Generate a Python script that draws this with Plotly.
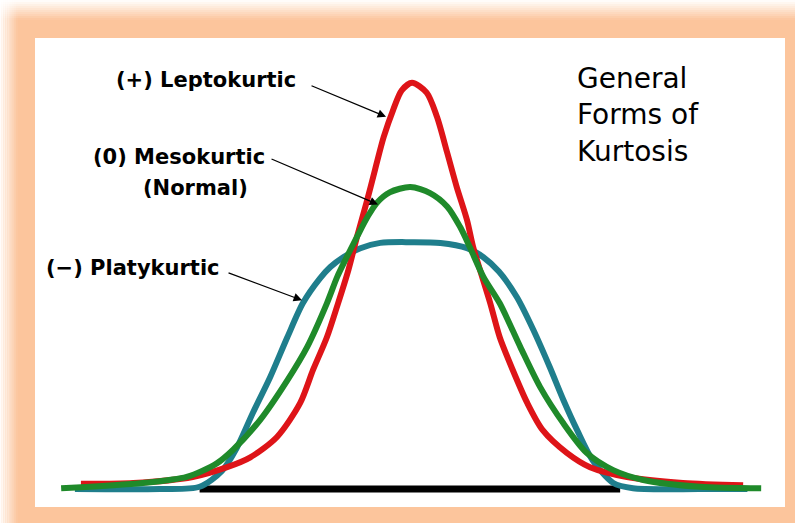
import plotly.graph_objects as go

# Values: x in standard-deviation units, y in density units
red_x = [-3.85, -3.24, -2.55, -2.15, -1.88, -1.57, -1.30, -1.15, -0.99, -0.86, -0.74, -0.64, -0.53,
         -0.43, -0.33, -0.22, -0.12, 0.0, 0.17, 0.29, 0.41, 0.52, 0.64, 0.71, 0.91, 1.02,
         1.17, 1.34, 1.52, 1.80, 2.07, 2.50, 3.15, 3.85]
red_y = [0.007, 0.008, 0.016, 0.029, 0.042, 0.069, 0.114, 0.158, 0.201, 0.246, 0.290, 0.334, 0.379,
         0.423, 0.466, 0.502, 0.528, 0.538, 0.525, 0.493, 0.445, 0.400, 0.356, 0.321, 0.246,
         0.201, 0.158, 0.114, 0.078, 0.048, 0.029, 0.016, 0.008, 0.005]

green_x = [-4.08, -3.13, -2.62, -2.27, -2.08, -1.77, -1.45, -1.22, -0.99, -0.87, -0.76, -0.64, -0.52,
           -0.41, -0.26, -0.02, 0.21, 0.41, 0.56, 0.67, 0.83, 1.02, 1.26, 1.49, 1.76, 2.03, 2.34,
           2.69, 3.35, 4.06]
green_y = [0.001, 0.008, 0.016, 0.034, 0.052, 0.091, 0.144, 0.188, 0.246, 0.281, 0.307, 0.334, 0.360,
           0.379, 0.393, 0.400, 0.392, 0.374, 0.347, 0.321, 0.281, 0.246, 0.188, 0.135, 0.087, 0.048,
           0.025, 0.012, 0.003, 0.001]

teal_x = [-3.92, -2.93, -2.47, -2.21, -2.04, -1.85, -1.65, -1.45, -1.27, -1.07, -0.95, -0.80, -0.60,
          -0.37, -0.02, 0.33, 0.64, 0.83, 1.01, 1.22, 1.41, 1.60, 1.76, 1.92, 2.10, 2.34,
          2.57, 3.35, 3.90]
teal_y = [0.0, 0.0, 0.003, 0.024, 0.054, 0.101, 0.148, 0.201, 0.246, 0.279, 0.294, 0.307, 0.319,
          0.326, 0.327, 0.326, 0.319, 0.307, 0.288, 0.254, 0.211, 0.162, 0.118, 0.078, 0.038,
          0.008, 0.001, 0.0, 0.0]

baseline_x = [-2.47, 2.42]

labels = ["(+) Leptokurtic", "(0) Mesokurtic", "(Normal)", "(−) Platykurtic"]
title_text = "General<br>Forms of<br>Kurtosis"

RED = "#DE1418"
GREEN = "#1F8A2A"
TEAL = "#1F7E8C"
PEACH = "#FCC59C"

W, H = 795, 523
ML, MR, MT, MB = 35, 10, 38, 16
PW, PH = W - ML - MR, H - MT - MB

fig = go.Figure()
for xs, ys, col, name in [(teal_x, teal_y, TEAL, "Platykurtic"),
                          (red_x, red_y, RED, "Leptokurtic"),
                          (green_x, green_y, GREEN, "Mesokurtic")]:
    fig.add_trace(go.Scatter(x=xs, y=ys, mode="lines", name=name,
                             line=dict(color=col, width=6, shape="spline", smoothing=0.8),
                             hoverinfo="skip", showlegend=False))

shapes = []
# black baseline
shapes.append(dict(type="line", xref="x", yref="y", x0=baseline_x[0], x1=baseline_x[1], y0=0, y1=0,
                   line=dict(color="black", width=7), layer="below"))


def px2paper_x(px):
    return (px - ML) / PW


def px2paper_y(py):
    return (H - MB - py) / PH


# fading glow along top and left edges
N = 10
for j in range(N):
    op = 1 - (j + 0.5) / N
    shapes.append(dict(type="rect", xref="paper", yref="paper",
                       x0=px2paper_x(0), x1=px2paper_x(W),
                       y0=px2paper_y(2 * j + 2), y1=px2paper_y(2 * j),
                       fillcolor="white", opacity=op, line=dict(width=0), layer="above"))
    shapes.append(dict(type="rect", xref="paper", yref="paper",
                       x0=px2paper_x(1.8 * j), x1=px2paper_x(1.8 * j + 1.8),
                       y0=px2paper_y(H), y1=px2paper_y(0),
                       fillcolor="white", opacity=op, line=dict(width=0), layer="above"))

lab_font = dict(family="DejaVu Sans", size=21, color="black", weight="bold")
annotations = [
    dict(x=-1.326, y=0.542, text=labels[0], xanchor="right", yanchor="middle", showarrow=False, font=lab_font),
    dict(x=-1.686, y=0.440, text=labels[1], xanchor="right", yanchor="middle", showarrow=False, font=lab_font),
    dict(x=-2.523, y=0.399, text=labels[2], xanchor="center", yanchor="middle", showarrow=False, font=lab_font),
    dict(x=-2.209, y=0.293, text=labels[3], xanchor="right", yanchor="middle", showarrow=False, font=lab_font),
    dict(x=1.90, y=0.496, text=title_text, xanchor="left", yanchor="middle", align="left", showarrow=False,
         font=dict(family="DejaVu Sans", size=28, color="black")),
]
arrows = [(-1.186, 0.535, -0.302, 0.493), (-1.651, 0.438, -0.395, 0.377), (-2.151, 0.287, -1.279, 0.250)]
for tx, ty, hx, hy in arrows:
    annotations.append(dict(x=hx, y=hy, ax=tx, ay=ty, xref="x", yref="y", axref="x", ayref="y",
                            text="", showarrow=True, arrowhead=2, arrowsize=1.3, arrowwidth=1.3,
                            arrowcolor="black"))

fig.update_layout(
    width=W, height=H,
    margin=dict(l=ML, r=MR, t=MT, b=MB),
    paper_bgcolor=PEACH, plot_bgcolor="white",
    xaxis=dict(range=[-4.384, 4.337], visible=False, fixedrange=True),
    yaxis=dict(range=[-0.0238, 0.5974], visible=False, fixedrange=True),
    shapes=shapes, annotations=annotations, showlegend=False,
)
fig.write_html("out.html", config={"displayModeBar": False},
               post_script="document.body.style.margin='0px';document.body.style.overflow='hidden';")
